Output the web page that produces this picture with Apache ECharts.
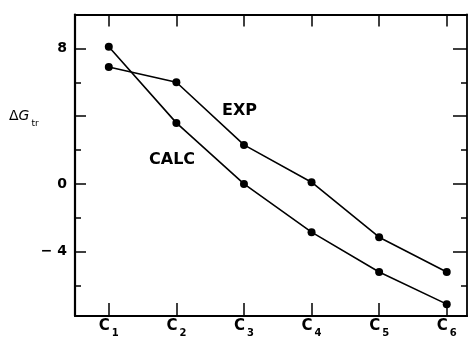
<!DOCTYPE html>
<html>
<head>
<meta charset="utf-8">
<script src="https://cdn.jsdelivr.net/npm/echarts@6/dist/echarts.min.js"></script>
<style>html,body{margin:0;padding:0;background:#fff}#c{width:468px;height:341px}</style>
</head>
<body>
<div id="c"></div>
<script>
const xPositions = [1, 2, 3, 4, 5, 6];
const xSubscripts = ['1', '2', '3', '4', '5', '6'];
const expValues = [6.9, 6.0, 2.3, 0.1, -3.15, -5.2];
const calcValues = [8.1, 3.6, 0.0, -2.85, -5.2, -7.1];
const yMajorTicks = [-4, 0, 4, 8];
const yMinorTicks = [-6, -2, 2, 6];
const yLabelValues = [8, 0, -4];
const seriesNames = ['EXP', 'CALC'];

const font = 'DejaVu Sans';
const chart = echarts.init(document.getElementById('c'));

function pairs(vals) { return xPositions.map((x, i) => [x, vals[i]]); }

const lineStyle = { color: '#000', width: 1.6 };
const tickLine = { color: '#000', width: 1.5 };

function extraY(pos, len) {
  return {
    type: 'value', min: -7.8, max: 10, position: pos,
    axisLine: { show: false, onZero: false },
    splitLine: { show: false },
    axisTick: { inside: true, length: len, customValues: yMinorTicks, lineStyle: tickLine },
    axisLabel: { show: false }
  };
}

chart.setOption({
  animation: false,
  backgroundColor: '#fff',
  grid: { left: 75, right: 1, top: 14.5, bottom: 25 },
  xAxis: [{
    type: 'value', min: 0.5, max: 6.3, position: 'bottom',
    axisLine: { onZero: false, lineStyle: { color: '#000', width: 2.2 } },
    splitLine: { show: false },
    axisTick: { inside: true, length: 13, customValues: xPositions, lineStyle: tickLine },
    axisLabel: {
      customValues: xPositions, margin: 3,
      formatter: v => '{c|C}{s|' + xSubscripts[xPositions.indexOf(v)] + '}',
      rich: {
        c: { fontFamily: font, fontWeight: 'bold', fontSize: 15, lineHeight: 16, color: '#000', verticalAlign: 'top' },
        s: { fontFamily: font, fontWeight: 'bold', fontSize: 10, lineHeight: 10, color: '#000', verticalAlign: 'top', padding: [9, 0, 0, 2] }
      }
    }
  }, {
    type: 'value', min: 0.5, max: 6.3, position: 'top',
    axisLine: { onZero: false, lineStyle: { color: '#000', width: 1.8 } },
    splitLine: { show: false },
    axisTick: { inside: true, length: 12, customValues: xPositions, lineStyle: tickLine },
    axisLabel: { show: false }
  }],
  yAxis: [{
    type: 'value', min: -7.8, max: 10, position: 'left',
    axisLine: { onZero: false, lineStyle: { color: '#000', width: 2.2 } },
    splitLine: { show: false },
    axisTick: { inside: true, length: 11, customValues: yMajorTicks, lineStyle: tickLine },
    axisLabel: {
      customValues: yLabelValues, margin: 8,
      formatter: v => String(v).replace('-', '\u2212 '),
      fontFamily: font, fontWeight: 'bold', fontSize: 14, color: '#000'
    }
  }, {
    type: 'value', min: -7.8, max: 10, position: 'right',
    axisLine: { onZero: false, lineStyle: { color: '#000', width: 1.8 } },
    splitLine: { show: false },
    axisTick: { inside: true, length: 14, customValues: yMajorTicks, lineStyle: tickLine },
    axisLabel: { show: false }
  }, extraY('left', 6), extraY('right', 6)],
  graphic: [
    { type: 'text', left: 9, top: 109, style: {
      text: '{d|\u0394}{g|G}{t|tr}',
      rich: {
        d: { fontFamily: font, fontSize: 14, fill: '#000', verticalAlign: 'top', lineHeight: 15 },
        g: { fontFamily: font, fontSize: 14, fontStyle: 'italic', fill: '#000', verticalAlign: 'top', lineHeight: 15 },
        t: { fontFamily: font, fontSize: 9, fill: '#000', verticalAlign: 'top', lineHeight: 10, padding: [10, 0, 0, 2] }
      } } },
    { type: 'text', left: 222, top: 103, style: { text: seriesNames[0], font: 'bold 16px "DejaVu Sans"', fill: '#000' } },
    { type: 'text', left: 149, top: 152, style: { text: seriesNames[1], font: 'bold 16px "DejaVu Sans"', fill: '#000' } }
  ],
  series: [
    { name: seriesNames[0], type: 'line', data: pairs(expValues), symbol: 'circle', symbolSize: 8,
      itemStyle: { color: '#000' }, lineStyle: lineStyle },
    { name: seriesNames[1], type: 'line', data: pairs(calcValues), symbol: 'circle', symbolSize: 8,
      itemStyle: { color: '#000' }, lineStyle: lineStyle }
  ]
});
</script>
</body>
</html>
